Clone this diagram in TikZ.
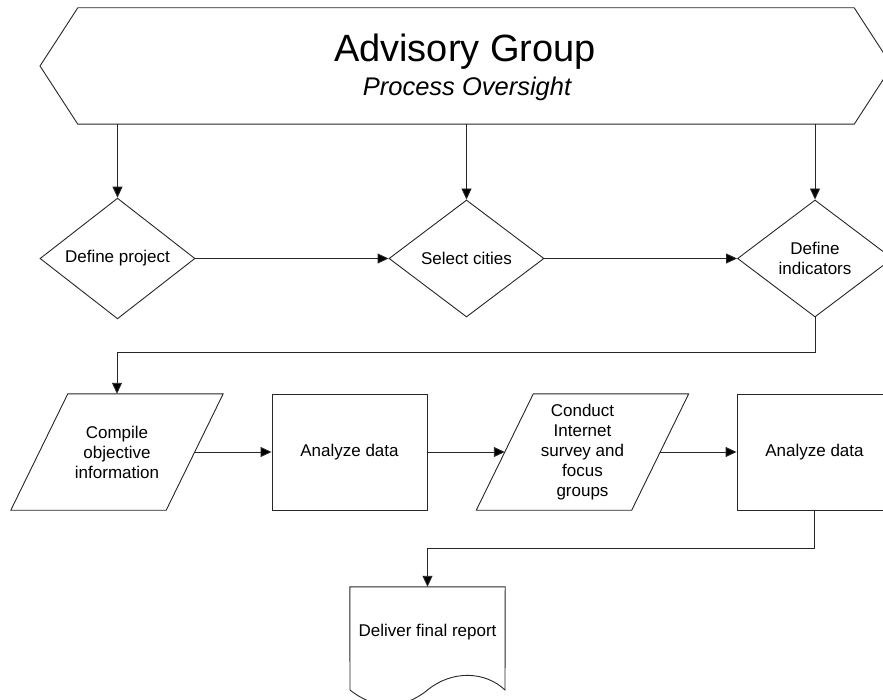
\documentclass[tikz,border=0pt]{standalone}
\usepackage{fontspec}
\setmainfont{Liberation Sans}
\usetikzlibrary{shapes.geometric,arrows.meta,calc}
\begin{document}
\begin{tikzpicture}[x=1pt,y=-1pt,
  line/.style={draw=black!85,line width=0.9pt},
  arr/.style={line,-{Triangle[length=11pt,width=10pt,fill=black]}},
  txt/.style={font=\fontsize{17}{20}\selectfont,align=center,inner sep=0pt},
  dia/.style={txt,line,diamond,minimum width=155,minimum height=117},
  boxn/.style={txt,line,rectangle,minimum width=155,minimum height=116},
  slot/.style={txt,rectangle,minimum width=155,minimum height=116}]
\useasboundingbox (0,0) rectangle (883,700);
\clip (0,0) rectangle (883,700);

% header
\node[inner sep=0,minimum width=776,minimum height=116] (hdr) at (466,66) {};
\draw[line] (40,66) -- (hdr.north west) -- (hdr.north east) -- (892,66) -- (hdr.south east) -- (hdr.south west) -- cycle;
\node[anchor=base,inner sep=0,font=\fontsize{38}{44}\selectfont] (title) at (465,62) {Advisory Group};
\node[anchor=base,inner sep=0,font=\itshape\fontsize{25.5}{30}\selectfont] (sub) at (467,96) {Process Oversight};

% diamonds
\node[dia] (d1) at (117.5,258.5) {Define project};
\node[dia] (d2) at (466.5,258.5) {Select cities};
\node[dia] (d3) at (815,258.5) {Define\\indicators};

\draw[arr] (hdr.south -| d1.north) -- (d1.north);
\draw[arr] (hdr.south -| d2.north) -- (d2.north);
\draw[arr] (hdr.south -| d3.north) -- (d3.north);
\draw[arr] (d1.east) -- (d2.west);
\draw[arr] (d2.east) -- (d3.west);

% second row
\node[slot] (p1) at (117,452) {Compile\\objective\\information};
\node[boxn] (b1) at (349.5,452) {Analyze data};
\node[slot] (p2) at (582.5,452) {Conduct\\Internet\\survey and\\focus\\groups};
\node[boxn] (b2) at (814.5,452) {Analyze data};

\foreach \p in {p1,p2}{
  \draw[line] ($(\p.north west)+(28.5,0)$) -- ($(\p.north east)+(28.5,0)$)
    -- ($(\p.south east)+(-28.5,0)$) -- ($(\p.south west)+(-28.5,0)$) -- cycle;
}

\draw[arr] (d3.south) -- ++(0,35) -| (p1.north);
\draw[arr] (p1.east) -- (b1.west);
\draw[arr] (b1.east) -- (p2.west);
\draw[arr] (p2.east) -- (b2.west);

% document
\node[txt,rectangle,minimum width=155,minimum height=90] (doc) at (427.5,632) {Deliver final report};
\draw[line] (doc.north west) -- (doc.north east) -- (505,690)
  .. controls (485,671) and (452,670) .. (427.5,690)
  .. controls (403,710) and (375,710) .. (350,690) -- cycle;
\draw[arr] (b2.south) -- ++(0,38) -| (doc.north);
\end{tikzpicture}
\end{document}
